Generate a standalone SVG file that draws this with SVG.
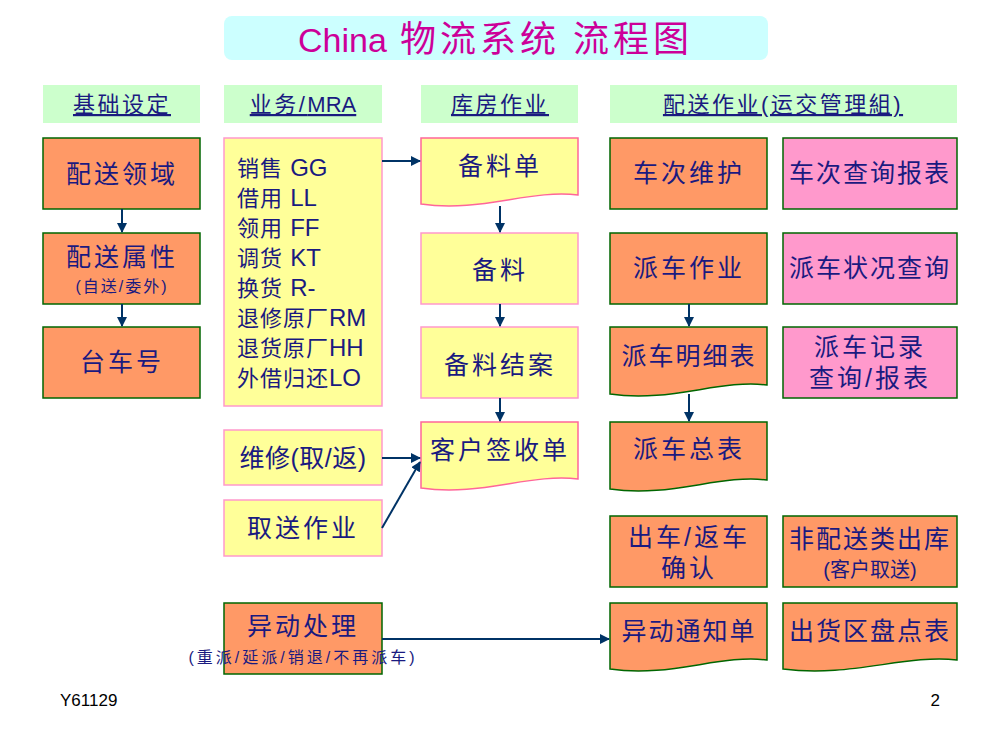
<svg xmlns="http://www.w3.org/2000/svg" width="1000" height="750" viewBox="0 0 1000 750">
<defs>
<style>
text{font-family:"Liberation Sans","Noto Sans CJK SC",sans-serif;fill:#1a1a80;}
.t{font-size:25px;text-anchor:middle;letter-spacing:3px;}
.s{font-size:16px;text-anchor:middle;letter-spacing:2px;}
.h{font-size:22px;text-anchor:middle;text-decoration:underline;letter-spacing:2.5px;}
.m{font-size:22px;letter-spacing:1px;}
.l{font-size:24px;letter-spacing:0;}
.hd{fill:#CCFFCC;}
.or{fill:#FF9966;stroke:#006600;stroke-width:1.5;}
.pk{fill:#FF99CC;stroke:#006600;stroke-width:1.5;}
.ye{fill:#FFFF99;stroke:#FF99CC;stroke-width:1.5;}
.yd{fill:#FFFF99;stroke:#FF6699;stroke-width:1.5;}
.c{stroke:#003366;stroke-width:2;fill:none;marker-end:url(#ah);}
.tt{fill:#CC0099;}
</style>
<marker id="ah" markerWidth="10" markerHeight="10" refX="9" refY="5" orient="auto" markerUnits="userSpaceOnUse">
<path d="M0,0 L10,5 L0,10 Z" fill="#003366"/>
</marker>
</defs>
<rect width="1000" height="750" fill="#FFFFFF"/>
<g id="title">
<rect x="224" y="16" width="544" height="44" rx="8" fill="#CCFFFF"/>
<text class="tt" x="298" y="52" style="font-size:34px;">China</text>
<text class="tt" x="400" y="52" style="font-size:36px;letter-spacing:4px;">物流系统</text>
<text class="tt" x="573" y="52" style="font-size:36px;letter-spacing:4px;">流程图</text>
</g>
<g id="h1"><rect class="hd" x="43" y="85" width="157" height="38"/><text class="h" x="122" y="112">基础设定</text></g>
<g id="h2"><rect class="hd" x="224" y="85" width="158" height="38"/><text class="h" x="303" y="112">业务/<tspan style="letter-spacing:0">MRA</tspan></text></g>
<g id="h3"><rect class="hd" x="421" y="85" width="157" height="38"/><text class="h" x="500" y="112">库房作业</text></g>
<g id="h4"><rect class="hd" x="610" y="85" width="347" height="38"/><text class="h" x="783" y="112">配送作业(运交管理組)</text></g>

<g id="n1"><rect class="or" x="43" y="138" width="157" height="71"/><text class="t" x="122" y="183">配送领域</text></g>
<g id="n2"><rect class="or" x="43" y="233" width="157" height="71"/><text class="t" x="122" y="266">配送属性</text><text class="s" x="122" y="292">(自送/委外)</text></g>
<g id="n3"><rect class="or" x="43" y="327" width="157" height="71"/><text class="t" x="122" y="371">台车号</text></g>

<g id="mra"><rect class="ye" x="224" y="138" width="158" height="268"/>
<text class="m" x="237" y="176">销售 <tspan class="l">GG</tspan></text>
<text class="m" x="237" y="206">借用 <tspan class="l">LL</tspan></text>
<text class="m" x="237" y="236">领用 <tspan class="l">FF</tspan></text>
<text class="m" x="237" y="266">调货 <tspan class="l">KT</tspan></text>
<text class="m" x="237" y="296">换货 <tspan class="l">R-</tspan></text>
<text class="m" x="237" y="326">退修原厂<tspan class="l">RM</tspan></text>
<text class="m" x="237" y="356">退货原厂<tspan class="l">HH</tspan></text>
<text class="m" x="237" y="386">外借归还<tspan class="l">LO</tspan></text>
</g>

<g id="w1"><path class="yd" d="M421,138 H578 V195 C530,189 480,213 421,204 Z"/><text class="t" x="500" y="175">备料单</text></g>
<g id="w2"><rect class="ye" x="421" y="233" width="157" height="71"/><text class="t" x="500" y="279">备料</text></g>
<g id="w3"><rect class="ye" x="421" y="327" width="157" height="71"/><text class="t" x="500" y="374">备料结案</text></g>
<g id="w4"><path class="yd" d="M421,422 H578 V479 C530,473 480,497 421,488 Z"/><text class="t" x="500" y="459">客户签收单</text></g>

<g id="r1"><rect class="ye" x="224" y="430" width="158" height="55"/><text class="t" x="303" y="467" style="letter-spacing:0.5px">维修(取/返)</text></g>
<g id="r2"><rect class="ye" x="224" y="500" width="158" height="56"/><text class="t" x="303" y="537">取送作业</text></g>
<g id="ex"><rect class="or" x="224" y="603" width="158" height="71"/><text class="t" x="303" y="635">异动处理</text><text class="s" x="303" y="663" style="letter-spacing:3px">(重派/延派/销退/不再派车)</text></g>

<g id="d1"><rect class="or" x="610" y="138" width="157" height="71"/><text class="t" x="689" y="182">车次维护</text></g>
<g id="q1"><rect class="pk" x="783" y="138" width="174" height="71"/><text class="t" x="870" y="182" style="letter-spacing:2px">车次查询报表</text></g>
<g id="d2"><rect class="or" x="610" y="233" width="157" height="71"/><text class="t" x="689" y="277">派车作业</text></g>
<g id="q2"><rect class="pk" x="783" y="233" width="174" height="71"/><text class="t" x="870" y="277" style="letter-spacing:2px">派车状况查询</text></g>
<g id="d3"><path class="or" d="M610,327 H767 V385 C720,379 670,403 610,394 Z"/><text class="t" x="689" y="365" style="letter-spacing:2px">派车明细表</text></g>
<g id="q3"><rect class="pk" x="783" y="327" width="174" height="71"/><text class="t" x="870" y="356">派车记录</text><text class="t" x="870" y="387">查询/报表</text></g>
<g id="d4"><path class="or" d="M610,422 H767 V480 C720,474 670,498 610,489 Z"/><text class="t" x="689" y="458">派车总表</text></g>
<g id="d5"><rect class="or" x="610" y="516" width="157" height="71"/><text class="t" x="689" y="546">出车/返车</text><text class="t" x="689" y="577">确认</text></g>
<g id="q5"><rect class="or" x="783" y="516" width="174" height="71"/><text class="t" x="870" y="548" style="letter-spacing:2px">非配送类出库</text><text x="870" y="577" style="font-size:20px;text-anchor:middle;">(客户取送)</text></g>
<g id="d6"><path class="or" d="M610,603 H767 V660 C720,654 670,678 610,669 Z"/><text class="t" x="689" y="640" style="letter-spacing:2px">异动通知单</text></g>
<g id="q6"><path class="or" d="M783,603 H957 V660 C905,654 850,678 783,669 Z"/><text class="t" x="870" y="640" style="letter-spacing:2px">出货区盘点表</text></g>

<g id="connectors">
<line class="c" x1="122" y1="209" x2="122" y2="232"/>
<line class="c" x1="122" y1="304" x2="122" y2="326"/>
<line class="c" x1="382" y1="161" x2="420" y2="161"/>
<line class="c" x1="500" y1="206" x2="500" y2="232"/>
<line class="c" x1="500" y1="304" x2="500" y2="326"/>
<line class="c" x1="500" y1="398" x2="500" y2="421"/>
<line class="c" x1="382" y1="458" x2="420" y2="458"/>
<line class="c" x1="382" y1="528" x2="420" y2="462"/>
<line class="c" x1="382" y1="639" x2="609" y2="639"/>
<line class="c" x1="689" y1="304" x2="689" y2="326"/>
<line class="c" x1="689" y1="394" x2="689" y2="421"/>
</g>
<text x="60" y="706" style="font-size:17px;fill:#000000;">Y61129</text>
<text x="940" y="706" style="font-size:17px;fill:#000000;text-anchor:end;">2</text>
</svg>
